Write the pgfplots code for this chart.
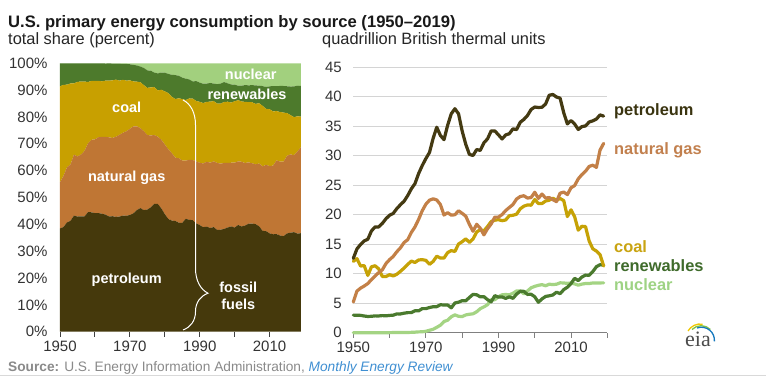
\documentclass[border=0pt]{standalone}
\usepackage{fontspec}
\setmainfont{Liberation Sans}
\newfontfamily\seriffont{Liberation Serif}
\usepackage{pgfplots}
\pgfplotsset{compat=1.18}
\usepackage{pgfplotstable}
\usetikzlibrary{decorations.pathreplacing}

\definecolor{petroA}{HTML}{45390C}
\definecolor{gasA}{HTML}{BF7634}
\definecolor{coalA}{HTML}{C8A000}
\definecolor{renA}{HTML}{4D7A2C}
\definecolor{nucA}{HTML}{A2D07E}
\definecolor{petroL}{HTML}{443A12}
\definecolor{gasL}{HTML}{C38047}
\definecolor{coalL}{HTML}{C6A206}
\definecolor{renL}{HTML}{4A7A2E}
\definecolor{nucL}{HTML}{A4D483}
\definecolor{petroT}{HTML}{3A3410}
\definecolor{gasT}{HTML}{C2804E}
\definecolor{coalT}{HTML}{C9A412}
\definecolor{renT}{HTML}{3F6B2B}
\definecolor{nucT}{HTML}{9ED384}
\definecolor{tickT}{HTML}{333333}
\definecolor{srcT}{HTML}{8A8A8A}
\definecolor{srcB}{HTML}{3F8FD2}

\pgfplotstableread{
year coal gas petro nuc ren
1950 12.10 5.20 12.60 0.00 2.98
1951 12.55 7.05 14.20 0.00 2.96
1952 11.31 7.55 14.96 0.00 2.94
1953 11.37 7.91 15.56 0.00 2.83
1954 9.71 8.33 15.84 0.00 2.75
1955 11.17 9.00 17.25 0.00 2.78
1956 11.35 9.61 17.94 0.00 2.85
1957 10.82 10.19 17.93 0.00 2.84
1958 9.53 10.66 18.53 0.00 2.90
1959 9.52 11.72 19.32 0.00 2.86
1960 9.84 12.39 19.92 0.01 2.93
1961 9.62 12.93 20.22 0.02 2.97
1962 9.91 13.73 21.05 0.03 3.19
1963 10.41 14.40 21.70 0.04 3.18
1964 10.96 15.29 22.30 0.04 3.31
1965 11.58 15.77 23.25 0.04 3.40
1966 12.14 17.00 24.40 0.06 3.41
1967 11.91 17.94 25.28 0.09 3.72
1968 12.33 19.21 26.98 0.14 3.70
1969 12.38 20.68 28.34 0.15 4.08
1970 12.27 21.79 29.52 0.24 4.08
1971 11.60 22.47 30.56 0.41 4.27
1972 12.08 22.70 32.95 0.58 4.40
1973 12.97 22.51 34.84 0.91 4.41
1974 12.66 21.73 33.45 1.27 4.74
1975 12.66 19.95 32.73 1.90 4.69
1976 13.58 20.35 35.17 2.11 4.70
1977 13.92 19.93 37.12 2.70 4.22
1978 13.77 20.00 37.97 3.02 5.04
1979 15.04 20.67 37.12 2.78 5.17
1980 15.42 20.24 34.20 2.74 5.43
1981 15.91 19.75 31.93 3.01 5.41
1982 15.32 18.36 30.23 3.13 5.98
1983 15.89 17.20 30.05 3.20 6.50
1984 17.07 18.38 31.05 3.55 6.43
1985 17.48 17.70 30.92 4.08 6.08
1986 17.26 16.59 32.20 4.38 6.11
1987 18.01 17.64 32.87 4.75 5.60
1988 18.85 18.45 34.22 5.59 5.23
1989 19.07 19.60 34.21 5.60 6.28
1990 19.17 19.60 33.55 6.10 6.04
1991 18.99 20.03 32.85 6.42 6.07
1992 19.12 20.71 33.53 6.48 5.82
1993 19.84 21.23 33.74 6.41 6.08
1994 19.91 21.73 34.56 6.69 5.82
1995 20.09 22.67 34.44 7.08 6.54
1996 21.00 23.09 35.68 7.09 7.02
1997 21.45 23.22 36.16 6.60 7.01
1998 21.66 22.83 36.82 7.07 6.49
1999 21.62 22.91 37.84 7.61 6.52
2000 22.58 23.82 38.26 7.86 6.10
2001 21.91 22.77 38.19 8.03 5.16
2002 21.90 23.51 38.22 8.15 5.73
2003 22.32 22.83 38.78 7.96 6.15
2004 22.47 22.91 40.27 8.22 6.25
2005 22.80 22.56 40.39 8.16 6.40
2006 22.45 22.22 39.96 8.22 6.86
2007 22.75 23.66 39.77 8.46 6.62
2008 22.39 23.84 37.28 8.43 7.30
2009 19.69 23.42 35.40 8.36 7.71
2010 20.83 24.57 35.97 8.43 8.34
2011 19.66 24.95 35.38 8.27 9.22
2012 17.38 26.09 34.46 8.06 8.84
2013 18.04 26.81 34.94 8.24 9.43
2014 17.99 27.38 35.06 8.34 9.77
2015 15.55 28.19 35.72 8.34 9.73
2016 14.23 28.40 35.92 8.43 10.37
2017 13.84 28.03 36.23 8.42 11.19
2018 13.24 30.96 36.93 8.44 11.53
2019 11.31 32.10 36.72 8.45 11.46
}\energy

\pgfplotstableread{
year p g c r n
1950 38.47 17.24 35.67 8.62 0.00
1951 39.01 19.06 33.93 8.00 0.00
1952 40.70 20.54 30.77 7.99 0.00
1953 41.31 21.00 30.18 7.51 0.00
1954 43.24 22.74 26.51 7.51 0.00
1955 42.91 22.39 27.79 6.91 0.00
1956 42.97 23.02 27.19 6.82 0.00
1957 42.92 24.39 25.90 6.79 0.00
1958 44.52 25.61 22.90 6.97 0.00
1959 44.50 26.99 21.93 6.58 0.00
1960 44.18 27.48 21.82 6.50 0.02
1961 44.19 28.26 21.02 6.49 0.04
1962 43.94 28.66 20.68 6.66 0.06
1963 43.64 28.96 20.93 6.39 0.08
1964 42.97 29.46 21.12 6.38 0.07
1965 43.02 29.18 21.43 6.29 0.08
1966 42.80 29.82 21.29 5.98 0.11
1967 42.89 30.44 20.21 6.31 0.15
1968 43.26 30.81 19.77 5.94 0.22
1969 43.18 31.51 18.86 6.22 0.23
1970 43.48 32.09 18.07 6.01 0.35
1971 44.09 32.42 16.74 6.16 0.59
1972 45.32 31.22 16.61 6.05 0.80
1973 46.06 29.76 17.15 5.83 1.20
1974 45.29 29.42 17.14 6.42 1.73
1975 45.50 27.74 17.60 6.52 2.64
1976 46.33 26.81 17.89 6.19 2.78
1977 47.66 25.59 17.87 5.42 3.46
1978 47.58 25.06 17.26 6.32 3.78
1979 45.95 25.59 18.62 6.40 3.44
1980 43.83 25.94 19.76 6.96 3.51
1981 42.01 25.98 20.93 7.12 3.96
1982 41.40 25.14 20.98 8.19 4.29
1983 41.25 23.61 21.82 8.93 4.39
1984 40.60 24.03 22.32 8.41 4.64
1985 40.55 23.21 22.92 7.97 5.35
1986 42.07 21.67 22.55 7.98 5.73
1987 41.68 22.37 22.84 7.10 6.01
1988 41.56 22.41 22.89 6.35 6.79
1989 40.36 23.12 22.50 7.41 6.61
1990 39.72 23.21 22.70 7.15 7.22
1991 38.94 23.74 22.51 7.20 7.61
1992 39.14 24.18 22.32 6.80 7.56
1993 38.65 24.32 22.73 6.96 7.34
1994 38.96 24.50 22.44 6.56 7.54
1995 37.92 24.96 22.12 7.20 7.80
1996 38.01 24.60 22.37 7.48 7.54
1997 38.29 24.59 22.71 7.42 6.99
1998 38.81 24.06 22.83 6.84 7.46
1999 39.21 23.74 22.40 6.76 7.89
2000 38.80 24.15 22.90 6.19 7.96
2001 39.76 23.70 22.81 5.37 8.36
2002 39.20 24.11 22.46 5.88 8.35
2003 39.56 23.29 22.77 6.27 8.11
2004 40.22 22.88 22.44 6.24 8.22
2005 40.27 22.49 22.73 6.38 8.13
2006 40.08 22.28 22.52 6.88 8.24
2007 39.28 23.37 22.47 6.54 8.34
2008 37.57 24.02 22.56 7.36 8.49
2009 37.43 24.76 20.82 8.15 8.84
2010 36.65 25.04 21.22 8.50 8.59
2011 36.30 25.60 20.17 9.46 8.47
2012 36.34 27.51 18.33 9.32 8.50
2013 35.85 27.51 18.51 9.68 8.45
2014 35.58 27.79 18.26 9.91 8.46
2015 36.62 28.90 15.94 9.98 8.56
2016 36.90 29.17 14.62 10.65 8.66
2017 37.08 28.69 14.16 11.45 8.62
2018 36.53 30.62 13.10 11.40 8.35
2019 36.71 32.09 11.31 11.46 8.43
}\shares

\begin{document}
\begin{tikzpicture}[x=1pt,y=1pt]
\path[use as bounding box] (0,0) rectangle (766,377);
\fill[white] (0,0) rectangle (766,377);

% ---------------- left: shares -----------------
\begin{axis}[
  at={(60pt,45.3pt)}, anchor=south west,
  scale only axis, width=241pt, height=268.4pt,
  xmin=1950, xmax=2019, ymin=0, ymax=100,
  stack plots=y,
  axis x line*=bottom, axis y line*=left,
  x axis line style={draw=none}, y axis line style={draw=none},
  xtick={1950,1960,...,2010}, xticklabels={1950,,1970,,1990,,2010},
  ytick={0,10,...,100},
  yticklabels={0\%,10\%,20\%,30\%,40\%,50\%,60\%,70\%,80\%,90\%,100\%},
  tick align=outside, major tick length=5pt,
  xtick style={draw=black!75, line width=0.9pt},
  ytick style={draw=none},
  tick label style={font=\fontsize{15}{15}\selectfont, text=tickT},
  yticklabel style={xshift=-4pt},
  xticklabel style={yshift=-1pt},
  /pgf/number format/assume math mode=true,
  clip=true,
]
\addplot[fill=petroA, draw=none] table[x=year,y=p]{\shares} \closedcycle;
\addplot[fill=gasA, draw=none] table[x=year,y=g]{\shares} \closedcycle;
\addplot[fill=coalA, draw=none] table[x=year,y=c]{\shares} \closedcycle;
\addplot[fill=renA, draw=none] table[x=year,y=r]{\shares} \closedcycle;
\addplot[fill=nucA, draw=none] table[x=year,y=n]{\shares} \closedcycle;
\end{axis}

% labels in the left panel
\begin{scope}[every node/.style={text=white, font=\bfseries\fontsize{14.5}{14.5}\selectfont, inner sep=0pt}]
\node at (250.7,303) {nuclear};
\node at (247,283) {renewables};
\node at (126.7,269.7) {coal};
\node at (126.7,199.7) {natural gas};
\node at (126.7,97.7) {petroleum};
\node at (238.3,89.7) {fossil};
\node at (238.3,73) {fuels};
\end{scope}
\draw[white, line width=1pt, decorate, decoration={brace, amplitude=25pt, aspect=0.84}] (183,277) -- (183,47);

% ---------------- right: quadrillion Btu -----------------
\begin{axis}[
  at={(353.3pt,44.3pt)}, anchor=south west,
  scale only axis, width=254pt, height=265.4pt,
  xmin=1950, xmax=2020, ymin=0, ymax=45,
  axis x line*=bottom, axis y line*=left,
  x axis line style={draw=black!50, line width=1pt},
  y axis line style={draw=none},
  xtick={1950,1960,...,2020}, xticklabels={1950,,1970,,1990,,2010,},
  ytick={0,5,...,45},
  tick align=outside, major tick length=5pt,
  xtick style={draw=black!50, line width=0.9pt},
  ytick style={draw=none},
  ymajorgrids, grid style={draw=black!17, line width=0.9pt},
  tick label style={font=\fontsize{15}{15}\selectfont, text=tickT},
  yticklabel style={xshift=-3pt},
  xticklabel style={yshift=-1pt},
  /pgf/number format/assume math mode=true,
  clip=false,
  every axis plot/.append style={line width=3.2pt, line join=round, line cap=round, mark=none},
]
\addplot[nucL] table[x=year,y=nuc]{\energy};
\addplot[renL] table[x=year,y=ren]{\energy};
\addplot[coalL] table[x=year,y=coal]{\energy};
\addplot[gasL] table[x=year,y=gas]{\energy};
\addplot[petroL] table[x=year,y=petro]{\energy};
\end{axis}

\begin{scope}[every node/.style={font=\bfseries\fontsize{16.4}{16.4}\selectfont, inner sep=0pt, anchor=base west}]
\node[text=petroT] at (614,261.3) {petroleum};
\node[text=gasT] at (614,222) {natural gas};
\node[text=coalT] at (614,124) {coal};
\node[text=renT] at (614,105.3) {renewables};
\node[text=nucT] at (614,86.5) {nuclear};
\end{scope}

% titles
\node[anchor=base west, inner sep=0pt, font=\bfseries\fontsize{16.6}{16.6}\selectfont, text=black!90] at (8,349.7) {U.S. primary energy consumption by source (1950–2019)};
\node[anchor=base west, inner sep=0pt, font=\fontsize{16.4}{16.4}\selectfont, text=black!85] at (8,332.7) {total share (percent)};
\node[anchor=base west, inner sep=0pt, font=\fontsize{16.4}{16.4}\selectfont, text=black!85] at (322,332.7) {quadrillion British thermal units};

% source
\node[anchor=base west, inner sep=0pt, font=\fontsize{13.7}{13.7}\selectfont, text=srcT] at (8,5) {\textbf{Source:} U.S. Energy Information Administration, \textcolor{srcB}{\itshape Monthly Energy Review}};
\draw[black!15, line width=1pt] (0,1) -- (766,1);

% eia logo
\node[anchor=base, inner sep=0pt, font=\seriffont\fontsize{22}{22}\selectfont, text=black!70] at (698,30) {eia};
\draw[line width=1.3pt, draw={rgb,255:red,240;green,200;blue,0}] (688,46) arc[start angle=150, end angle=80, radius=14];
\draw[line width=1.3pt, draw={rgb,255:red,130;green,195;blue,70}] (692,47.5) arc[start angle=135, end angle=45, radius=13];
\draw[line width=1.3pt, draw={rgb,255:red,20;green,120;blue,190}] (697,49) arc[start angle=110, end angle=-5, radius=13];
\end{tikzpicture}
\end{document}
